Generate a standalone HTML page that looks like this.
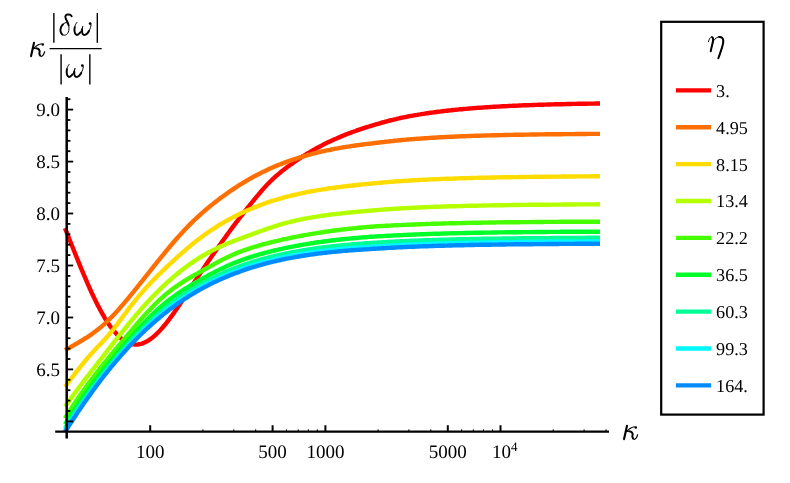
<!DOCTYPE html>
<html><head><meta charset="utf-8"><title>plot</title>
<style>
html,body{margin:0;padding:0;background:#fff;}
body{width:790px;height:483px;overflow:hidden;position:relative;font-family:"Liberation Serif",serif;}
svg{position:absolute;left:0;top:0;}
text{font-family:"Liberation Serif",serif;fill:#000;text-rendering:geometricPrecision;filter:url(#idf);}
.t{font-size:19px;}
.lg{font-size:18.15px;}
.it{font-style:italic;}
</style></head><body>
<svg width="790" height="483" viewBox="0 0 790 483">
<defs><filter id="idf" x="-5%" y="-5%" width="110%" height="110%" color-interpolation-filters="sRGB"><feOffset dx="0" dy="0"/></filter></defs>
<rect width="790" height="483" fill="#fff"/>

<g fill="none" stroke-width="4.4" stroke-linejoin="round" stroke-linecap="butt">
<path d="M65.0,228.1 L66.0,230.6 L67.5,234.4 L69.0,238.2 L70.5,242.0 L72.0,245.8 L73.5,249.5 L75.0,253.3 L76.5,257.0 L78.0,260.7 L79.5,264.4 L81.0,268.1 L82.5,271.7 L84.0,275.2 L85.5,278.7 L87.0,282.2 L88.5,285.6 L90.0,289.0 L91.5,292.3 L93.0,295.5 L94.5,298.6 L96.0,301.7 L97.5,304.7 L99.0,307.6 L100.5,310.4 L102.0,313.1 L103.5,315.7 L105.0,318.3 L106.5,320.7 L108.0,323.0 L109.5,325.2 L111.0,327.3 L112.5,329.2 L114.0,331.1 L115.5,332.8 L117.0,334.5 L118.5,336.0 L120.0,337.4 L121.5,338.6 L123.0,339.8 L124.5,340.8 L126.0,341.7 L127.5,342.5 L129.0,343.1 L130.5,343.7 L132.0,344.1 L133.5,344.4 L135.0,344.5 L136.5,344.6 L138.0,344.5 L139.5,344.2 L141.0,343.9 L142.5,343.4 L144.0,342.8 L145.5,342.1 L147.0,341.3 L148.5,340.4 L150.0,339.4 L151.5,338.3 L153.0,337.1 L154.5,335.8 L156.0,334.5 L157.5,333.0 L159.0,331.5 L160.5,329.9 L162.0,328.2 L163.5,326.5 L165.0,324.7 L166.5,322.8 L168.0,320.9 L169.5,318.9 L171.0,316.9 L172.5,314.9 L174.0,312.8 L175.5,310.6 L177.0,308.5 L178.5,306.3 L180.0,304.1 L181.5,301.8 L183.0,299.5 L184.5,297.3 L186.0,295.0 L187.5,292.7 L189.0,290.4 L190.5,288.1 L192.0,285.7 L193.5,283.4 L195.0,281.1 L196.5,278.9 L198.0,276.6 L199.5,274.3 L201.0,272.1 L202.5,269.9 L204.0,267.7 L205.5,265.5 L207.0,263.3 L208.5,261.1 L210.0,258.9 L211.5,256.8 L213.0,254.6 L214.5,252.5 L216.0,250.3 L217.5,248.2 L219.0,246.1 L220.5,244.0 L222.0,241.9 L223.5,239.8 L225.0,237.7 L226.5,235.6 L228.0,233.5 L229.5,231.5 L231.0,229.4 L232.5,227.4 L234.0,225.4 L235.5,223.4 L237.0,221.4 L238.5,219.5 L240.0,217.5 L241.5,215.6 L243.0,213.6 L244.5,211.7 L246.0,209.8 L247.5,207.9 L249.0,206.1 L250.5,204.2 L252.0,202.4 L253.5,200.5 L255.0,198.7 L256.5,196.9 L258.0,195.1 L259.5,193.3 L261.0,191.5 L262.5,189.8 L264.0,188.1 L265.5,186.4 L267.0,184.8 L268.5,183.3 L270.0,181.8 L271.5,180.3 L273.0,178.9 L274.5,177.5 L276.0,176.2 L277.5,174.9 L279.0,173.6 L280.5,172.3 L282.0,171.1 L283.5,169.9 L285.0,168.8 L286.5,167.6 L288.0,166.5 L289.5,165.4 L291.0,164.3 L292.5,163.3 L294.0,162.2 L295.5,161.2 L297.0,160.2 L298.5,159.1 L300.0,158.2 L301.5,157.2 L303.0,156.2 L304.5,155.3 L306.0,154.4 L307.5,153.4 L309.0,152.6 L310.5,151.7 L312.0,150.8 L313.5,149.9 L315.0,149.1 L316.5,148.3 L318.0,147.5 L319.5,146.7 L321.0,145.9 L322.5,145.1 L324.0,144.3 L325.5,143.6 L327.0,142.8 L328.5,142.1 L330.0,141.4 L331.5,140.7 L333.0,140.0 L334.5,139.3 L336.0,138.7 L337.5,138.0 L339.0,137.4 L340.5,136.7 L342.0,136.1 L343.5,135.5 L345.0,134.9 L346.5,134.3 L348.0,133.7 L349.5,133.2 L351.0,132.6 L352.5,132.0 L354.0,131.5 L355.5,131.0 L357.0,130.4 L358.5,129.9 L360.0,129.4 L361.5,128.9 L363.0,128.4 L364.5,127.9 L366.0,127.4 L367.5,127.0 L369.0,126.5 L370.5,126.0 L372.0,125.6 L373.5,125.1 L375.0,124.7 L376.5,124.2 L378.0,123.8 L379.5,123.4 L381.0,122.9 L382.5,122.5 L384.0,122.1 L385.5,121.7 L387.0,121.3 L388.5,120.9 L390.0,120.5 L391.5,120.1 L393.0,119.8 L394.5,119.4 L396.0,119.1 L397.5,118.7 L399.0,118.4 L400.5,118.0 L402.0,117.7 L403.5,117.4 L405.0,117.1 L406.5,116.8 L408.0,116.5 L409.5,116.2 L411.0,115.9 L412.5,115.7 L414.0,115.4 L415.5,115.1 L417.0,114.9 L418.5,114.6 L420.0,114.4 L421.5,114.1 L423.0,113.9 L424.5,113.7 L426.0,113.4 L427.5,113.2 L429.0,113.0 L430.5,112.8 L432.0,112.6 L433.5,112.4 L435.0,112.2 L436.5,112.0 L438.0,111.8 L439.5,111.6 L441.0,111.4 L442.5,111.2 L444.0,111.0 L445.5,110.9 L447.0,110.7 L448.5,110.5 L450.0,110.4 L451.5,110.2 L453.0,110.0 L454.5,109.9 L456.0,109.7 L457.5,109.6 L459.0,109.4 L460.5,109.3 L462.0,109.2 L463.5,109.0 L465.0,108.9 L466.5,108.8 L468.0,108.6 L469.5,108.5 L471.0,108.4 L472.5,108.3 L474.0,108.1 L475.5,108.0 L477.0,107.9 L478.5,107.8 L480.0,107.7 L481.5,107.6 L483.0,107.5 L484.5,107.4 L486.0,107.3 L487.5,107.2 L489.0,107.1 L490.5,107.0 L492.0,106.9 L493.5,106.8 L495.0,106.7 L496.5,106.6 L498.0,106.6 L499.5,106.5 L501.0,106.4 L502.5,106.3 L504.0,106.2 L505.5,106.2 L507.0,106.1 L508.5,106.0 L510.0,105.9 L511.5,105.9 L513.0,105.8 L514.5,105.7 L516.0,105.7 L517.5,105.6 L519.0,105.5 L520.5,105.5 L522.0,105.4 L523.5,105.3 L525.0,105.3 L526.5,105.2 L528.0,105.2 L529.5,105.1 L531.0,105.1 L532.5,105.0 L534.0,105.0 L535.5,104.9 L537.0,104.9 L538.5,104.8 L540.0,104.8 L541.5,104.7 L543.0,104.7 L544.5,104.6 L546.0,104.6 L547.5,104.5 L549.0,104.5 L550.5,104.5 L552.0,104.4 L553.5,104.4 L555.0,104.3 L556.5,104.3 L558.0,104.3 L559.5,104.2 L561.0,104.2 L562.5,104.2 L564.0,104.1 L565.5,104.1 L567.0,104.0 L568.5,104.0 L570.0,104.0 L571.5,104.0 L573.0,103.9 L574.5,103.9 L576.0,103.9 L577.5,103.8 L579.0,103.8 L580.5,103.8 L582.0,103.8 L583.5,103.7 L585.0,103.7 L586.5,103.7 L588.0,103.6 L589.5,103.6 L591.0,103.6 L592.5,103.6 L594.0,103.6 L595.5,103.5 L597.0,103.5 L598.5,103.5 L600.0,103.5" stroke="#ff0000"/>
<path d="M65.0,350.2 L66.0,349.6 L67.5,348.8 L69.0,347.9 L70.5,347.1 L72.0,346.2 L73.5,345.4 L75.0,344.5 L76.5,343.6 L78.0,342.8 L79.5,341.9 L81.0,341.0 L82.5,340.1 L84.0,339.2 L85.5,338.2 L87.0,337.3 L88.5,336.3 L90.0,335.3 L91.5,334.3 L93.0,333.2 L94.5,332.1 L96.0,331.0 L97.5,329.8 L99.0,328.6 L100.5,327.4 L102.0,326.1 L103.5,324.8 L105.0,323.5 L106.5,322.1 L108.0,320.6 L109.5,319.2 L111.0,317.6 L112.5,316.1 L114.0,314.5 L115.5,312.9 L117.0,311.3 L118.5,309.6 L120.0,307.9 L121.5,306.2 L123.0,304.4 L124.5,302.7 L126.0,300.9 L127.5,299.1 L129.0,297.3 L130.5,295.5 L132.0,293.6 L133.5,291.8 L135.0,289.9 L136.5,288.1 L138.0,286.2 L139.5,284.3 L141.0,282.4 L142.5,280.6 L144.0,278.7 L145.5,276.8 L147.0,274.9 L148.5,273.0 L150.0,271.1 L151.5,269.2 L153.0,267.3 L154.5,265.4 L156.0,263.6 L157.5,261.7 L159.0,259.8 L160.5,258.0 L162.0,256.1 L163.5,254.3 L165.0,252.5 L166.5,250.6 L168.0,248.8 L169.5,247.0 L171.0,245.3 L172.5,243.5 L174.0,241.7 L175.5,240.0 L177.0,238.3 L178.5,236.6 L180.0,234.9 L181.5,233.3 L183.0,231.7 L184.5,230.1 L186.0,228.5 L187.5,226.9 L189.0,225.4 L190.5,223.9 L192.0,222.4 L193.5,220.9 L195.0,219.5 L196.5,218.1 L198.0,216.7 L199.5,215.3 L201.0,214.0 L202.5,212.6 L204.0,211.3 L205.5,210.0 L207.0,208.8 L208.5,207.5 L210.0,206.3 L211.5,205.1 L213.0,203.9 L214.5,202.7 L216.0,201.5 L217.5,200.4 L219.0,199.2 L220.5,198.1 L222.0,197.0 L223.5,195.9 L225.0,194.8 L226.5,193.8 L228.0,192.7 L229.5,191.7 L231.0,190.6 L232.5,189.6 L234.0,188.6 L235.5,187.6 L237.0,186.7 L238.5,185.7 L240.0,184.7 L241.5,183.8 L243.0,182.9 L244.5,182.0 L246.0,181.1 L247.5,180.2 L249.0,179.3 L250.5,178.5 L252.0,177.6 L253.5,176.8 L255.0,176.0 L256.5,175.2 L258.0,174.4 L259.5,173.7 L261.0,172.9 L262.5,172.1 L264.0,171.4 L265.5,170.7 L267.0,170.0 L268.5,169.3 L270.0,168.6 L271.5,167.9 L273.0,167.3 L274.5,166.6 L276.0,166.0 L277.5,165.4 L279.0,164.8 L280.5,164.2 L282.0,163.6 L283.5,163.0 L285.0,162.4 L286.5,161.9 L288.0,161.3 L289.5,160.8 L291.0,160.3 L292.5,159.8 L294.0,159.3 L295.5,158.8 L297.0,158.3 L298.5,157.8 L300.0,157.3 L301.5,156.9 L303.0,156.4 L304.5,156.0 L306.0,155.6 L307.5,155.1 L309.0,154.7 L310.5,154.3 L312.0,153.9 L313.5,153.5 L315.0,153.2 L316.5,152.8 L318.0,152.4 L319.5,152.1 L321.0,151.7 L322.5,151.4 L324.0,151.1 L325.5,150.7 L327.0,150.4 L328.5,150.1 L330.0,149.8 L331.5,149.5 L333.0,149.2 L334.5,148.9 L336.0,148.6 L337.5,148.4 L339.0,148.1 L340.5,147.8 L342.0,147.6 L343.5,147.3 L345.0,147.1 L346.5,146.8 L348.0,146.6 L349.5,146.4 L351.0,146.1 L352.5,145.9 L354.0,145.7 L355.5,145.5 L357.0,145.3 L358.5,145.1 L360.0,144.9 L361.5,144.7 L363.0,144.5 L364.5,144.3 L366.0,144.1 L367.5,143.9 L369.0,143.7 L370.5,143.6 L372.0,143.4 L373.5,143.2 L375.0,143.0 L376.5,142.8 L378.0,142.7 L379.5,142.5 L381.0,142.3 L382.5,142.1 L384.0,142.0 L385.5,141.8 L387.0,141.6 L388.5,141.5 L390.0,141.3 L391.5,141.1 L393.0,141.0 L394.5,140.8 L396.0,140.6 L397.5,140.5 L399.0,140.3 L400.5,140.2 L402.0,140.0 L403.5,139.9 L405.0,139.8 L406.5,139.6 L408.0,139.5 L409.5,139.4 L411.0,139.2 L412.5,139.1 L414.0,139.0 L415.5,138.9 L417.0,138.8 L418.5,138.7 L420.0,138.6 L421.5,138.5 L423.0,138.4 L424.5,138.3 L426.0,138.2 L427.5,138.1 L429.0,138.0 L430.5,137.9 L432.0,137.8 L433.5,137.7 L435.0,137.6 L436.5,137.5 L438.0,137.4 L439.5,137.3 L441.0,137.3 L442.5,137.2 L444.0,137.1 L445.5,137.0 L447.0,137.0 L448.5,136.9 L450.0,136.8 L451.5,136.7 L453.0,136.7 L454.5,136.6 L456.0,136.5 L457.5,136.5 L459.0,136.4 L460.5,136.4 L462.0,136.3 L463.5,136.2 L465.0,136.2 L466.5,136.1 L468.0,136.1 L469.5,136.0 L471.0,136.0 L472.5,135.9 L474.0,135.9 L475.5,135.8 L477.0,135.8 L478.5,135.7 L480.0,135.7 L481.5,135.6 L483.0,135.6 L484.5,135.5 L486.0,135.5 L487.5,135.4 L489.0,135.4 L490.5,135.4 L492.0,135.3 L493.5,135.3 L495.0,135.3 L496.5,135.2 L498.0,135.2 L499.5,135.1 L501.0,135.1 L502.5,135.1 L504.0,135.0 L505.5,135.0 L507.0,135.0 L508.5,134.9 L510.0,134.9 L511.5,134.9 L513.0,134.9 L514.5,134.8 L516.0,134.8 L517.5,134.8 L519.0,134.7 L520.5,134.7 L522.0,134.7 L523.5,134.7 L525.0,134.6 L526.5,134.6 L528.0,134.6 L529.5,134.6 L531.0,134.5 L532.5,134.5 L534.0,134.5 L535.5,134.5 L537.0,134.5 L538.5,134.4 L540.0,134.4 L541.5,134.4 L543.0,134.4 L544.5,134.4 L546.0,134.3 L547.5,134.3 L549.0,134.3 L550.5,134.3 L552.0,134.3 L553.5,134.3 L555.0,134.2 L556.5,134.2 L558.0,134.2 L559.5,134.2 L561.0,134.2 L562.5,134.2 L564.0,134.1 L565.5,134.1 L567.0,134.1 L568.5,134.1 L570.0,134.1 L571.5,134.1 L573.0,134.1 L574.5,134.1 L576.0,134.0 L577.5,134.0 L579.0,134.0 L580.5,134.0 L582.0,134.0 L583.5,134.0 L585.0,134.0 L586.5,134.0 L588.0,133.9 L589.5,133.9 L591.0,133.9 L592.5,133.9 L594.0,133.9 L595.5,133.9 L597.0,133.9 L598.5,133.9 L600.0,133.9" stroke="#ff6e00"/>
<path d="M65.0,386.9 L66.0,385.5 L67.5,383.5 L69.0,381.5 L70.5,379.5 L72.0,377.5 L73.5,375.6 L75.0,373.6 L76.5,371.7 L78.0,369.8 L79.5,367.9 L81.0,366.0 L82.5,364.1 L84.0,362.3 L85.5,360.5 L87.0,358.7 L88.5,357.0 L90.0,355.2 L91.5,353.6 L93.0,351.9 L94.5,350.3 L96.0,348.7 L97.5,347.1 L99.0,345.6 L100.5,344.0 L102.0,342.4 L103.5,340.8 L105.0,339.2 L106.5,337.5 L108.0,335.8 L109.5,334.1 L111.0,332.2 L112.5,330.4 L114.0,328.5 L115.5,326.5 L117.0,324.6 L118.5,322.6 L120.0,320.6 L121.5,318.5 L123.0,316.5 L124.5,314.5 L126.0,312.5 L127.5,310.4 L129.0,308.4 L130.5,306.5 L132.0,304.5 L133.5,302.6 L135.0,300.8 L136.5,298.9 L138.0,297.1 L139.5,295.3 L141.0,293.6 L142.5,291.8 L144.0,290.2 L145.5,288.5 L147.0,286.8 L148.5,285.2 L150.0,283.6 L151.5,282.0 L153.0,280.5 L154.5,278.9 L156.0,277.4 L157.5,275.9 L159.0,274.4 L160.5,273.0 L162.0,271.5 L163.5,270.1 L165.0,268.6 L166.5,267.2 L168.0,265.8 L169.5,264.4 L171.0,263.0 L172.5,261.6 L174.0,260.2 L175.5,258.8 L177.0,257.4 L178.5,256.1 L180.0,254.7 L181.5,253.4 L183.0,252.1 L184.5,250.8 L186.0,249.5 L187.5,248.2 L189.0,246.9 L190.5,245.7 L192.0,244.4 L193.5,243.2 L195.0,242.0 L196.5,240.8 L198.0,239.7 L199.5,238.5 L201.0,237.4 L202.5,236.3 L204.0,235.2 L205.5,234.1 L207.0,233.1 L208.5,232.0 L210.0,231.0 L211.5,230.0 L213.0,229.0 L214.5,228.1 L216.0,227.1 L217.5,226.2 L219.0,225.2 L220.5,224.3 L222.0,223.4 L223.5,222.6 L225.0,221.7 L226.5,220.8 L228.0,220.0 L229.5,219.2 L231.0,218.4 L232.5,217.6 L234.0,216.8 L235.5,216.0 L237.0,215.3 L238.5,214.5 L240.0,213.8 L241.5,213.1 L243.0,212.4 L244.5,211.7 L246.0,211.0 L247.5,210.3 L249.0,209.7 L250.5,209.1 L252.0,208.4 L253.5,207.8 L255.0,207.2 L256.5,206.6 L258.0,206.0 L259.5,205.4 L261.0,204.9 L262.5,204.3 L264.0,203.8 L265.5,203.2 L267.0,202.7 L268.5,202.2 L270.0,201.7 L271.5,201.2 L273.0,200.7 L274.5,200.3 L276.0,199.8 L277.5,199.4 L279.0,198.9 L280.5,198.5 L282.0,198.1 L283.5,197.6 L285.0,197.2 L286.5,196.8 L288.0,196.4 L289.5,196.1 L291.0,195.7 L292.5,195.3 L294.0,195.0 L295.5,194.6 L297.0,194.3 L298.5,193.9 L300.0,193.6 L301.5,193.3 L303.0,193.0 L304.5,192.6 L306.0,192.3 L307.5,192.0 L309.0,191.8 L310.5,191.5 L312.0,191.2 L313.5,190.9 L315.0,190.7 L316.5,190.4 L318.0,190.1 L319.5,189.9 L321.0,189.7 L322.5,189.4 L324.0,189.2 L325.5,189.0 L327.0,188.7 L328.5,188.5 L330.0,188.3 L331.5,188.1 L333.0,187.9 L334.5,187.7 L336.0,187.5 L337.5,187.3 L339.0,187.1 L340.5,186.9 L342.0,186.7 L343.5,186.5 L345.0,186.4 L346.5,186.2 L348.0,186.0 L349.5,185.8 L351.0,185.7 L352.5,185.5 L354.0,185.3 L355.5,185.2 L357.0,185.0 L358.5,184.8 L360.0,184.7 L361.5,184.5 L363.0,184.4 L364.5,184.2 L366.0,184.1 L367.5,183.9 L369.0,183.8 L370.5,183.6 L372.0,183.5 L373.5,183.4 L375.0,183.2 L376.5,183.1 L378.0,182.9 L379.5,182.8 L381.0,182.7 L382.5,182.5 L384.0,182.4 L385.5,182.3 L387.0,182.1 L388.5,182.0 L390.0,181.9 L391.5,181.8 L393.0,181.7 L394.5,181.5 L396.0,181.4 L397.5,181.3 L399.0,181.2 L400.5,181.1 L402.0,181.0 L403.5,180.9 L405.0,180.8 L406.5,180.7 L408.0,180.6 L409.5,180.5 L411.0,180.5 L412.5,180.4 L414.0,180.3 L415.5,180.2 L417.0,180.1 L418.5,180.0 L420.0,180.0 L421.5,179.9 L423.0,179.8 L424.5,179.7 L426.0,179.7 L427.5,179.6 L429.0,179.5 L430.5,179.4 L432.0,179.4 L433.5,179.3 L435.0,179.3 L436.5,179.2 L438.0,179.1 L439.5,179.1 L441.0,179.0 L442.5,178.9 L444.0,178.9 L445.5,178.8 L447.0,178.8 L448.5,178.7 L450.0,178.7 L451.5,178.6 L453.0,178.6 L454.5,178.5 L456.0,178.5 L457.5,178.4 L459.0,178.4 L460.5,178.3 L462.0,178.3 L463.5,178.2 L465.0,178.2 L466.5,178.1 L468.0,178.1 L469.5,178.1 L471.0,178.0 L472.5,178.0 L474.0,177.9 L475.5,177.9 L477.0,177.9 L478.5,177.8 L480.0,177.8 L481.5,177.7 L483.0,177.7 L484.5,177.7 L486.0,177.6 L487.5,177.6 L489.0,177.6 L490.5,177.5 L492.0,177.5 L493.5,177.5 L495.0,177.5 L496.5,177.4 L498.0,177.4 L499.5,177.4 L501.0,177.3 L502.5,177.3 L504.0,177.3 L505.5,177.3 L507.0,177.2 L508.5,177.2 L510.0,177.2 L511.5,177.2 L513.0,177.1 L514.5,177.1 L516.0,177.1 L517.5,177.1 L519.0,177.0 L520.5,177.0 L522.0,177.0 L523.5,177.0 L525.0,177.0 L526.5,176.9 L528.0,176.9 L529.5,176.9 L531.0,176.9 L532.5,176.9 L534.0,176.8 L535.5,176.8 L537.0,176.8 L538.5,176.8 L540.0,176.8 L541.5,176.7 L543.0,176.7 L544.5,176.7 L546.0,176.7 L547.5,176.7 L549.0,176.7 L550.5,176.7 L552.0,176.6 L553.5,176.6 L555.0,176.6 L556.5,176.6 L558.0,176.6 L559.5,176.6 L561.0,176.6 L562.5,176.5 L564.0,176.5 L565.5,176.5 L567.0,176.5 L568.5,176.5 L570.0,176.5 L571.5,176.5 L573.0,176.5 L574.5,176.5 L576.0,176.4 L577.5,176.4 L579.0,176.4 L580.5,176.4 L582.0,176.4 L583.5,176.4 L585.0,176.4 L586.5,176.4 L588.0,176.4 L589.5,176.4 L591.0,176.3 L592.5,176.3 L594.0,176.3 L595.5,176.3 L597.0,176.3 L598.5,176.3 L600.0,176.3" stroke="#ffdc00"/>
<path d="M65.0,406.6 L66.0,405.2 L67.5,403.1 L69.0,401.1 L70.5,399.0 L72.0,396.9 L73.5,394.9 L75.0,392.9 L76.5,390.8 L78.0,388.8 L79.5,386.8 L81.0,384.8 L82.5,382.9 L84.0,380.9 L85.5,378.9 L87.0,376.9 L88.5,375.0 L90.0,373.0 L91.5,371.1 L93.0,369.2 L94.5,367.2 L96.0,365.3 L97.5,363.4 L99.0,361.4 L100.5,359.5 L102.0,357.6 L103.5,355.7 L105.0,353.7 L106.5,351.8 L108.0,349.9 L109.5,348.0 L111.0,346.1 L112.5,344.1 L114.0,342.2 L115.5,340.3 L117.0,338.4 L118.5,336.5 L120.0,334.6 L121.5,332.8 L123.0,330.9 L124.5,329.0 L126.0,327.2 L127.5,325.3 L129.0,323.5 L130.5,321.7 L132.0,319.9 L133.5,318.1 L135.0,316.3 L136.5,314.5 L138.0,312.8 L139.5,311.1 L141.0,309.3 L142.5,307.6 L144.0,306.0 L145.5,304.3 L147.0,302.7 L148.5,301.0 L150.0,299.4 L151.5,297.9 L153.0,296.3 L154.5,294.8 L156.0,293.2 L157.5,291.7 L159.0,290.2 L160.5,288.8 L162.0,287.3 L163.5,285.9 L165.0,284.5 L166.5,283.1 L168.0,281.7 L169.5,280.4 L171.0,279.1 L172.5,277.8 L174.0,276.5 L175.5,275.2 L177.0,274.0 L178.5,272.7 L180.0,271.5 L181.5,270.3 L183.0,269.2 L184.5,268.0 L186.0,266.9 L187.5,265.8 L189.0,264.7 L190.5,263.6 L192.0,262.6 L193.5,261.6 L195.0,260.6 L196.5,259.6 L198.0,258.6 L199.5,257.7 L201.0,256.8 L202.5,255.9 L204.0,255.0 L205.5,254.1 L207.0,253.3 L208.5,252.5 L210.0,251.7 L211.5,250.9 L213.0,250.1 L214.5,249.4 L216.0,248.6 L217.5,247.9 L219.0,247.2 L220.5,246.5 L222.0,245.9 L223.5,245.2 L225.0,244.6 L226.5,243.9 L228.0,243.3 L229.5,242.7 L231.0,242.1 L232.5,241.5 L234.0,240.9 L235.5,240.3 L237.0,239.8 L238.5,239.2 L240.0,238.6 L241.5,238.1 L243.0,237.5 L244.5,237.0 L246.0,236.4 L247.5,235.9 L249.0,235.3 L250.5,234.8 L252.0,234.3 L253.5,233.7 L255.0,233.2 L256.5,232.6 L258.0,232.1 L259.5,231.5 L261.0,231.0 L262.5,230.5 L264.0,229.9 L265.5,229.4 L267.0,228.9 L268.5,228.3 L270.0,227.8 L271.5,227.3 L273.0,226.8 L274.5,226.3 L276.0,225.9 L277.5,225.4 L279.0,224.9 L280.5,224.5 L282.0,224.1 L283.5,223.6 L285.0,223.2 L286.5,222.8 L288.0,222.4 L289.5,222.1 L291.0,221.7 L292.5,221.3 L294.0,221.0 L295.5,220.6 L297.0,220.3 L298.5,220.0 L300.0,219.6 L301.5,219.3 L303.0,219.0 L304.5,218.7 L306.0,218.4 L307.5,218.2 L309.0,217.9 L310.5,217.6 L312.0,217.4 L313.5,217.1 L315.0,216.9 L316.5,216.6 L318.0,216.4 L319.5,216.1 L321.0,215.9 L322.5,215.7 L324.0,215.5 L325.5,215.3 L327.0,215.1 L328.5,214.9 L330.0,214.7 L331.5,214.5 L333.0,214.3 L334.5,214.1 L336.0,214.0 L337.5,213.8 L339.0,213.6 L340.5,213.5 L342.0,213.3 L343.5,213.1 L345.0,213.0 L346.5,212.8 L348.0,212.7 L349.5,212.5 L351.0,212.4 L352.5,212.2 L354.0,212.1 L355.5,211.9 L357.0,211.8 L358.5,211.7 L360.0,211.5 L361.5,211.4 L363.0,211.3 L364.5,211.1 L366.0,211.0 L367.5,210.9 L369.0,210.7 L370.5,210.6 L372.0,210.5 L373.5,210.4 L375.0,210.2 L376.5,210.1 L378.0,210.0 L379.5,209.9 L381.0,209.8 L382.5,209.6 L384.0,209.5 L385.5,209.4 L387.0,209.3 L388.5,209.2 L390.0,209.1 L391.5,209.0 L393.0,208.9 L394.5,208.8 L396.0,208.7 L397.5,208.6 L399.0,208.5 L400.5,208.4 L402.0,208.4 L403.5,208.3 L405.0,208.2 L406.5,208.1 L408.0,208.0 L409.5,208.0 L411.0,207.9 L412.5,207.8 L414.0,207.7 L415.5,207.7 L417.0,207.6 L418.5,207.5 L420.0,207.5 L421.5,207.4 L423.0,207.3 L424.5,207.3 L426.0,207.2 L427.5,207.1 L429.0,207.1 L430.5,207.0 L432.0,207.0 L433.5,206.9 L435.0,206.8 L436.5,206.8 L438.0,206.7 L439.5,206.7 L441.0,206.6 L442.5,206.6 L444.0,206.5 L445.5,206.5 L447.0,206.4 L448.5,206.4 L450.0,206.3 L451.5,206.3 L453.0,206.3 L454.5,206.2 L456.0,206.2 L457.5,206.1 L459.0,206.1 L460.5,206.1 L462.0,206.0 L463.5,206.0 L465.0,205.9 L466.5,205.9 L468.0,205.9 L469.5,205.8 L471.0,205.8 L472.5,205.8 L474.0,205.7 L475.5,205.7 L477.0,205.7 L478.5,205.6 L480.0,205.6 L481.5,205.6 L483.0,205.5 L484.5,205.5 L486.0,205.5 L487.5,205.4 L489.0,205.4 L490.5,205.4 L492.0,205.4 L493.5,205.3 L495.0,205.3 L496.5,205.3 L498.0,205.3 L499.5,205.2 L501.0,205.2 L502.5,205.2 L504.0,205.2 L505.5,205.1 L507.0,205.1 L508.5,205.1 L510.0,205.1 L511.5,205.1 L513.0,205.0 L514.5,205.0 L516.0,205.0 L517.5,205.0 L519.0,205.0 L520.5,204.9 L522.0,204.9 L523.5,204.9 L525.0,204.9 L526.5,204.9 L528.0,204.9 L529.5,204.8 L531.0,204.8 L532.5,204.8 L534.0,204.8 L535.5,204.8 L537.0,204.8 L538.5,204.7 L540.0,204.7 L541.5,204.7 L543.0,204.7 L544.5,204.7 L546.0,204.7 L547.5,204.7 L549.0,204.7 L550.5,204.6 L552.0,204.6 L553.5,204.6 L555.0,204.6 L556.5,204.6 L558.0,204.6 L559.5,204.6 L561.0,204.6 L562.5,204.5 L564.0,204.5 L565.5,204.5 L567.0,204.5 L568.5,204.5 L570.0,204.5 L571.5,204.5 L573.0,204.5 L574.5,204.5 L576.0,204.5 L577.5,204.4 L579.0,204.4 L580.5,204.4 L582.0,204.4 L583.5,204.4 L585.0,204.4 L586.5,204.4 L588.0,204.4 L589.5,204.4 L591.0,204.4 L592.5,204.4 L594.0,204.4 L595.5,204.4 L597.0,204.3 L598.5,204.3 L600.0,204.3" stroke="#b4ff00"/>
<path d="M65.0,418.3 L66.0,416.7 L67.5,414.3 L69.0,411.9 L70.5,409.6 L72.0,407.3 L73.5,405.0 L75.0,402.7 L76.5,400.5 L78.0,398.3 L79.5,396.1 L81.0,394.0 L82.5,391.9 L84.0,389.7 L85.5,387.7 L87.0,385.6 L88.5,383.6 L90.0,381.5 L91.5,379.5 L93.0,377.6 L94.5,375.6 L96.0,373.6 L97.5,371.7 L99.0,369.8 L100.5,367.9 L102.0,366.0 L103.5,364.1 L105.0,362.2 L106.5,360.4 L108.0,358.5 L109.5,356.7 L111.0,354.9 L112.5,353.1 L114.0,351.2 L115.5,349.4 L117.0,347.6 L118.5,345.8 L120.0,344.1 L121.5,342.3 L123.0,340.5 L124.5,338.7 L126.0,336.9 L127.5,335.2 L129.0,333.4 L130.5,331.6 L132.0,329.8 L133.5,328.0 L135.0,326.3 L136.5,324.5 L138.0,322.8 L139.5,321.0 L141.0,319.3 L142.5,317.6 L144.0,315.9 L145.5,314.2 L147.0,312.6 L148.5,311.0 L150.0,309.4 L151.5,307.8 L153.0,306.2 L154.5,304.7 L156.0,303.2 L157.5,301.8 L159.0,300.3 L160.5,298.9 L162.0,297.6 L163.5,296.3 L165.0,295.0 L166.5,293.8 L168.0,292.5 L169.5,291.4 L171.0,290.2 L172.5,289.1 L174.0,288.0 L175.5,286.9 L177.0,285.9 L178.5,284.8 L180.0,283.8 L181.5,282.9 L183.0,281.9 L184.5,280.9 L186.0,280.0 L187.5,279.1 L189.0,278.2 L190.5,277.3 L192.0,276.5 L193.5,275.6 L195.0,274.7 L196.5,273.9 L198.0,273.1 L199.5,272.2 L201.0,271.4 L202.5,270.6 L204.0,269.7 L205.5,268.9 L207.0,268.1 L208.5,267.3 L210.0,266.4 L211.5,265.6 L213.0,264.8 L214.5,263.9 L216.0,263.1 L217.5,262.2 L219.0,261.4 L220.5,260.6 L222.0,259.9 L223.5,259.1 L225.0,258.4 L226.5,257.6 L228.0,256.9 L229.5,256.2 L231.0,255.6 L232.5,254.9 L234.0,254.3 L235.5,253.6 L237.0,253.0 L238.5,252.4 L240.0,251.8 L241.5,251.3 L243.0,250.7 L244.5,250.2 L246.0,249.6 L247.5,249.1 L249.0,248.6 L250.5,248.1 L252.0,247.6 L253.5,247.2 L255.0,246.7 L256.5,246.3 L258.0,245.8 L259.5,245.4 L261.0,245.0 L262.5,244.5 L264.0,244.1 L265.5,243.7 L267.0,243.3 L268.5,243.0 L270.0,242.6 L271.5,242.2 L273.0,241.8 L274.5,241.5 L276.0,241.1 L277.5,240.8 L279.0,240.4 L280.5,240.1 L282.0,239.7 L283.5,239.4 L285.0,239.1 L286.5,238.8 L288.0,238.4 L289.5,238.1 L291.0,237.8 L292.5,237.5 L294.0,237.2 L295.5,236.9 L297.0,236.6 L298.5,236.3 L300.0,236.0 L301.5,235.8 L303.0,235.5 L304.5,235.2 L306.0,234.9 L307.5,234.7 L309.0,234.4 L310.5,234.1 L312.0,233.9 L313.5,233.6 L315.0,233.4 L316.5,233.2 L318.0,232.9 L319.5,232.7 L321.0,232.5 L322.5,232.2 L324.0,232.0 L325.5,231.8 L327.0,231.6 L328.5,231.4 L330.0,231.1 L331.5,230.9 L333.0,230.7 L334.5,230.5 L336.0,230.3 L337.5,230.2 L339.0,230.0 L340.5,229.8 L342.0,229.6 L343.5,229.4 L345.0,229.2 L346.5,229.1 L348.0,228.9 L349.5,228.7 L351.0,228.6 L352.5,228.4 L354.0,228.3 L355.5,228.1 L357.0,228.0 L358.5,227.8 L360.0,227.7 L361.5,227.5 L363.0,227.4 L364.5,227.3 L366.0,227.1 L367.5,227.0 L369.0,226.9 L370.5,226.8 L372.0,226.7 L373.5,226.5 L375.0,226.4 L376.5,226.3 L378.0,226.2 L379.5,226.1 L381.0,226.0 L382.5,226.0 L384.0,225.9 L385.5,225.8 L387.0,225.7 L388.5,225.6 L390.0,225.6 L391.5,225.5 L393.0,225.4 L394.5,225.3 L396.0,225.3 L397.5,225.2 L399.0,225.1 L400.5,225.1 L402.0,225.0 L403.5,224.9 L405.0,224.9 L406.5,224.8 L408.0,224.8 L409.5,224.7 L411.0,224.6 L412.5,224.6 L414.0,224.5 L415.5,224.4 L417.0,224.4 L418.5,224.3 L420.0,224.3 L421.5,224.2 L423.0,224.1 L424.5,224.1 L426.0,224.0 L427.5,224.0 L429.0,223.9 L430.5,223.9 L432.0,223.8 L433.5,223.8 L435.0,223.7 L436.5,223.7 L438.0,223.6 L439.5,223.6 L441.0,223.6 L442.5,223.5 L444.0,223.5 L445.5,223.4 L447.0,223.4 L448.5,223.4 L450.0,223.3 L451.5,223.3 L453.0,223.2 L454.5,223.2 L456.0,223.2 L457.5,223.1 L459.0,223.1 L460.5,223.1 L462.0,223.0 L463.5,223.0 L465.0,223.0 L466.5,222.9 L468.0,222.9 L469.5,222.9 L471.0,222.8 L472.5,222.8 L474.0,222.8 L475.5,222.8 L477.0,222.7 L478.5,222.7 L480.0,222.7 L481.5,222.7 L483.0,222.6 L484.5,222.6 L486.0,222.6 L487.5,222.6 L489.0,222.5 L490.5,222.5 L492.0,222.5 L493.5,222.5 L495.0,222.5 L496.5,222.4 L498.0,222.4 L499.5,222.4 L501.0,222.4 L502.5,222.4 L504.0,222.3 L505.5,222.3 L507.0,222.3 L508.5,222.3 L510.0,222.3 L511.5,222.2 L513.0,222.2 L514.5,222.2 L516.0,222.2 L517.5,222.2 L519.0,222.2 L520.5,222.1 L522.0,222.1 L523.5,222.1 L525.0,222.1 L526.5,222.1 L528.0,222.1 L529.5,222.1 L531.0,222.1 L532.5,222.0 L534.0,222.0 L535.5,222.0 L537.0,222.0 L538.5,222.0 L540.0,222.0 L541.5,222.0 L543.0,222.0 L544.5,221.9 L546.0,221.9 L547.5,221.9 L549.0,221.9 L550.5,221.9 L552.0,221.9 L553.5,221.9 L555.0,221.9 L556.5,221.9 L558.0,221.9 L559.5,221.8 L561.0,221.8 L562.5,221.8 L564.0,221.8 L565.5,221.8 L567.0,221.8 L568.5,221.8 L570.0,221.8 L571.5,221.8 L573.0,221.8 L574.5,221.8 L576.0,221.8 L577.5,221.8 L579.0,221.7 L580.5,221.7 L582.0,221.7 L583.5,221.7 L585.0,221.7 L586.5,221.7 L588.0,221.7 L589.5,221.7 L591.0,221.7 L592.5,221.7 L594.0,221.7 L595.5,221.7 L597.0,221.7 L598.5,221.7 L600.0,221.7" stroke="#45ff00"/>
<path d="M65.0,424.5 L66.0,422.9 L67.5,420.5 L69.0,418.2 L70.5,415.8 L72.0,413.5 L73.5,411.2 L75.0,409.0 L76.5,406.7 L78.0,404.5 L79.5,402.3 L81.0,400.1 L82.5,398.0 L84.0,395.8 L85.5,393.7 L87.0,391.6 L88.5,389.5 L90.0,387.5 L91.5,385.4 L93.0,383.4 L94.5,381.4 L96.0,379.4 L97.5,377.5 L99.0,375.5 L100.5,373.6 L102.0,371.7 L103.5,369.8 L105.0,367.9 L106.5,366.0 L108.0,364.2 L109.5,362.3 L111.0,360.5 L112.5,358.7 L114.0,356.8 L115.5,355.1 L117.0,353.3 L118.5,351.5 L120.0,349.7 L121.5,348.0 L123.0,346.2 L124.5,344.5 L126.0,342.8 L127.5,341.1 L129.0,339.4 L130.5,337.7 L132.0,336.0 L133.5,334.3 L135.0,332.6 L136.5,331.0 L138.0,329.3 L139.5,327.7 L141.0,326.1 L142.5,324.5 L144.0,322.9 L145.5,321.4 L147.0,319.8 L148.5,318.3 L150.0,316.8 L151.5,315.3 L153.0,313.9 L154.5,312.5 L156.0,311.1 L157.5,309.7 L159.0,308.3 L160.5,307.0 L162.0,305.7 L163.5,304.4 L165.0,303.2 L166.5,302.0 L168.0,300.8 L169.5,299.6 L171.0,298.5 L172.5,297.4 L174.0,296.3 L175.5,295.2 L177.0,294.1 L178.5,293.1 L180.0,292.1 L181.5,291.1 L183.0,290.1 L184.5,289.1 L186.0,288.2 L187.5,287.3 L189.0,286.3 L190.5,285.4 L192.0,284.5 L193.5,283.7 L195.0,282.8 L196.5,281.9 L198.0,281.1 L199.5,280.2 L201.0,279.4 L202.5,278.6 L204.0,277.8 L205.5,277.0 L207.0,276.1 L208.5,275.3 L210.0,274.5 L211.5,273.7 L213.0,273.0 L214.5,272.2 L216.0,271.4 L217.5,270.6 L219.0,269.9 L220.5,269.1 L222.0,268.4 L223.5,267.7 L225.0,267.0 L226.5,266.3 L228.0,265.6 L229.5,265.0 L231.0,264.3 L232.5,263.7 L234.0,263.1 L235.5,262.5 L237.0,261.9 L238.5,261.3 L240.0,260.8 L241.5,260.2 L243.0,259.7 L244.5,259.1 L246.0,258.6 L247.5,258.1 L249.0,257.6 L250.5,257.1 L252.0,256.6 L253.5,256.2 L255.0,255.7 L256.5,255.3 L258.0,254.8 L259.5,254.4 L261.0,254.0 L262.5,253.6 L264.0,253.1 L265.5,252.7 L267.0,252.4 L268.5,252.0 L270.0,251.6 L271.5,251.2 L273.0,250.8 L274.5,250.5 L276.0,250.1 L277.5,249.8 L279.0,249.4 L280.5,249.1 L282.0,248.8 L283.5,248.4 L285.0,248.1 L286.5,247.8 L288.0,247.5 L289.5,247.2 L291.0,246.9 L292.5,246.6 L294.0,246.3 L295.5,246.0 L297.0,245.7 L298.5,245.5 L300.0,245.2 L301.5,244.9 L303.0,244.7 L304.5,244.4 L306.0,244.2 L307.5,243.9 L309.0,243.7 L310.5,243.4 L312.0,243.2 L313.5,243.0 L315.0,242.7 L316.5,242.5 L318.0,242.3 L319.5,242.1 L321.0,241.9 L322.5,241.7 L324.0,241.5 L325.5,241.3 L327.0,241.1 L328.5,240.9 L330.0,240.7 L331.5,240.5 L333.0,240.3 L334.5,240.2 L336.0,240.0 L337.5,239.8 L339.0,239.7 L340.5,239.5 L342.0,239.3 L343.5,239.2 L345.0,239.0 L346.5,238.9 L348.0,238.7 L349.5,238.6 L351.0,238.4 L352.5,238.3 L354.0,238.2 L355.5,238.0 L357.0,237.9 L358.5,237.8 L360.0,237.6 L361.5,237.5 L363.0,237.4 L364.5,237.3 L366.0,237.2 L367.5,237.1 L369.0,236.9 L370.5,236.8 L372.0,236.7 L373.5,236.6 L375.0,236.5 L376.5,236.4 L378.0,236.3 L379.5,236.3 L381.0,236.2 L382.5,236.1 L384.0,236.0 L385.5,235.9 L387.0,235.8 L388.5,235.7 L390.0,235.7 L391.5,235.6 L393.0,235.5 L394.5,235.4 L396.0,235.4 L397.5,235.3 L399.0,235.2 L400.5,235.1 L402.0,235.1 L403.5,235.0 L405.0,234.9 L406.5,234.9 L408.0,234.8 L409.5,234.7 L411.0,234.7 L412.5,234.6 L414.0,234.5 L415.5,234.5 L417.0,234.4 L418.5,234.4 L420.0,234.3 L421.5,234.3 L423.0,234.2 L424.5,234.1 L426.0,234.1 L427.5,234.0 L429.0,234.0 L430.5,233.9 L432.0,233.9 L433.5,233.8 L435.0,233.8 L436.5,233.7 L438.0,233.7 L439.5,233.7 L441.0,233.6 L442.5,233.6 L444.0,233.5 L445.5,233.5 L447.0,233.4 L448.5,233.4 L450.0,233.4 L451.5,233.3 L453.0,233.3 L454.5,233.3 L456.0,233.2 L457.5,233.2 L459.0,233.1 L460.5,233.1 L462.0,233.1 L463.5,233.0 L465.0,233.0 L466.5,233.0 L468.0,233.0 L469.5,232.9 L471.0,232.9 L472.5,232.9 L474.0,232.8 L475.5,232.8 L477.0,232.8 L478.5,232.8 L480.0,232.7 L481.5,232.7 L483.0,232.7 L484.5,232.6 L486.0,232.6 L487.5,232.6 L489.0,232.6 L490.5,232.6 L492.0,232.5 L493.5,232.5 L495.0,232.5 L496.5,232.5 L498.0,232.4 L499.5,232.4 L501.0,232.4 L502.5,232.4 L504.0,232.4 L505.5,232.3 L507.0,232.3 L508.5,232.3 L510.0,232.3 L511.5,232.3 L513.0,232.3 L514.5,232.2 L516.0,232.2 L517.5,232.2 L519.0,232.2 L520.5,232.2 L522.0,232.2 L523.5,232.1 L525.0,232.1 L526.5,232.1 L528.0,232.1 L529.5,232.1 L531.0,232.1 L532.5,232.1 L534.0,232.0 L535.5,232.0 L537.0,232.0 L538.5,232.0 L540.0,232.0 L541.5,232.0 L543.0,232.0 L544.5,232.0 L546.0,232.0 L547.5,231.9 L549.0,231.9 L550.5,231.9 L552.0,231.9 L553.5,231.9 L555.0,231.9 L556.5,231.9 L558.0,231.9 L559.5,231.9 L561.0,231.8 L562.5,231.8 L564.0,231.8 L565.5,231.8 L567.0,231.8 L568.5,231.8 L570.0,231.8 L571.5,231.8 L573.0,231.8 L574.5,231.8 L576.0,231.8 L577.5,231.8 L579.0,231.8 L580.5,231.7 L582.0,231.7 L583.5,231.7 L585.0,231.7 L586.5,231.7 L588.0,231.7 L589.5,231.7 L591.0,231.7 L592.5,231.7 L594.0,231.7 L595.5,231.7 L597.0,231.7 L598.5,231.7 L600.0,231.7" stroke="#00ff29"/>
<path d="M65.0,428.3 L66.0,426.7 L67.5,424.4 L69.0,422.0 L70.5,419.7 L72.0,417.3 L73.5,415.0 L75.0,412.8 L76.5,410.5 L78.0,408.3 L79.5,406.1 L81.0,403.9 L82.5,401.7 L84.0,399.5 L85.5,397.4 L87.0,395.3 L88.5,393.2 L90.0,391.1 L91.5,389.1 L93.0,387.0 L94.5,385.0 L96.0,383.0 L97.5,381.0 L99.0,379.0 L100.5,377.1 L102.0,375.2 L103.5,373.2 L105.0,371.3 L106.5,369.5 L108.0,367.6 L109.5,365.7 L111.0,363.9 L112.5,362.1 L114.0,360.3 L115.5,358.5 L117.0,356.7 L118.5,355.0 L120.0,353.2 L121.5,351.5 L123.0,349.8 L124.5,348.1 L126.0,346.4 L127.5,344.7 L129.0,343.0 L130.5,341.4 L132.0,339.8 L133.5,338.1 L135.0,336.5 L136.5,334.9 L138.0,333.4 L139.5,331.8 L141.0,330.3 L142.5,328.7 L144.0,327.2 L145.5,325.7 L147.0,324.3 L148.5,322.8 L150.0,321.4 L151.5,320.0 L153.0,318.6 L154.5,317.2 L156.0,315.9 L157.5,314.5 L159.0,313.2 L160.5,311.9 L162.0,310.7 L163.5,309.4 L165.0,308.2 L166.5,307.0 L168.0,305.8 L169.5,304.7 L171.0,303.6 L172.5,302.4 L174.0,301.3 L175.5,300.3 L177.0,299.2 L178.5,298.2 L180.0,297.1 L181.5,296.1 L183.0,295.1 L184.5,294.2 L186.0,293.2 L187.5,292.2 L189.0,291.3 L190.5,290.4 L192.0,289.5 L193.5,288.6 L195.0,287.7 L196.5,286.8 L198.0,286.0 L199.5,285.1 L201.0,284.3 L202.5,283.5 L204.0,282.7 L205.5,281.9 L207.0,281.1 L208.5,280.3 L210.0,279.5 L211.5,278.7 L213.0,278.0 L214.5,277.2 L216.0,276.5 L217.5,275.7 L219.0,275.0 L220.5,274.3 L222.0,273.6 L223.5,272.9 L225.0,272.3 L226.5,271.6 L228.0,271.0 L229.5,270.3 L231.0,269.7 L232.5,269.1 L234.0,268.5 L235.5,267.9 L237.0,267.3 L238.5,266.8 L240.0,266.2 L241.5,265.7 L243.0,265.1 L244.5,264.6 L246.0,264.1 L247.5,263.6 L249.0,263.1 L250.5,262.6 L252.0,262.2 L253.5,261.7 L255.0,261.2 L256.5,260.8 L258.0,260.3 L259.5,259.9 L261.0,259.5 L262.5,259.1 L264.0,258.7 L265.5,258.3 L267.0,257.9 L268.5,257.5 L270.0,257.1 L271.5,256.7 L273.0,256.4 L274.5,256.0 L276.0,255.7 L277.5,255.3 L279.0,255.0 L280.5,254.6 L282.0,254.3 L283.5,254.0 L285.0,253.7 L286.5,253.4 L288.0,253.1 L289.5,252.8 L291.0,252.5 L292.5,252.2 L294.0,251.9 L295.5,251.6 L297.0,251.3 L298.5,251.1 L300.0,250.8 L301.5,250.6 L303.0,250.3 L304.5,250.1 L306.0,249.8 L307.5,249.6 L309.0,249.3 L310.5,249.1 L312.0,248.9 L313.5,248.7 L315.0,248.5 L316.5,248.3 L318.0,248.0 L319.5,247.8 L321.0,247.7 L322.5,247.5 L324.0,247.3 L325.5,247.1 L327.0,246.9 L328.5,246.7 L330.0,246.6 L331.5,246.4 L333.0,246.2 L334.5,246.1 L336.0,245.9 L337.5,245.7 L339.0,245.6 L340.5,245.4 L342.0,245.3 L343.5,245.1 L345.0,245.0 L346.5,244.9 L348.0,244.7 L349.5,244.6 L351.0,244.5 L352.5,244.3 L354.0,244.2 L355.5,244.1 L357.0,244.0 L358.5,243.9 L360.0,243.7 L361.5,243.6 L363.0,243.5 L364.5,243.4 L366.0,243.3 L367.5,243.2 L369.0,243.1 L370.5,243.0 L372.0,242.9 L373.5,242.8 L375.0,242.7 L376.5,242.6 L378.0,242.5 L379.5,242.4 L381.0,242.4 L382.5,242.3 L384.0,242.2 L385.5,242.1 L387.0,242.0 L388.5,241.9 L390.0,241.8 L391.5,241.8 L393.0,241.7 L394.5,241.6 L396.0,241.5 L397.5,241.5 L399.0,241.4 L400.5,241.3 L402.0,241.2 L403.5,241.2 L405.0,241.1 L406.5,241.0 L408.0,241.0 L409.5,240.9 L411.0,240.8 L412.5,240.8 L414.0,240.7 L415.5,240.6 L417.0,240.6 L418.5,240.5 L420.0,240.5 L421.5,240.4 L423.0,240.4 L424.5,240.3 L426.0,240.3 L427.5,240.2 L429.0,240.1 L430.5,240.1 L432.0,240.0 L433.5,240.0 L435.0,240.0 L436.5,239.9 L438.0,239.9 L439.5,239.8 L441.0,239.8 L442.5,239.7 L444.0,239.7 L445.5,239.6 L447.0,239.6 L448.5,239.6 L450.0,239.5 L451.5,239.5 L453.0,239.4 L454.5,239.4 L456.0,239.4 L457.5,239.3 L459.0,239.3 L460.5,239.3 L462.0,239.2 L463.5,239.2 L465.0,239.2 L466.5,239.1 L468.0,239.1 L469.5,239.1 L471.0,239.0 L472.5,239.0 L474.0,239.0 L475.5,239.0 L477.0,238.9 L478.5,238.9 L480.0,238.9 L481.5,238.9 L483.0,238.8 L484.5,238.8 L486.0,238.8 L487.5,238.8 L489.0,238.7 L490.5,238.7 L492.0,238.7 L493.5,238.7 L495.0,238.6 L496.5,238.6 L498.0,238.6 L499.5,238.6 L501.0,238.6 L502.5,238.5 L504.0,238.5 L505.5,238.5 L507.0,238.5 L508.5,238.5 L510.0,238.4 L511.5,238.4 L513.0,238.4 L514.5,238.4 L516.0,238.4 L517.5,238.4 L519.0,238.3 L520.5,238.3 L522.0,238.3 L523.5,238.3 L525.0,238.3 L526.5,238.3 L528.0,238.2 L529.5,238.2 L531.0,238.2 L532.5,238.2 L534.0,238.2 L535.5,238.2 L537.0,238.2 L538.5,238.1 L540.0,238.1 L541.5,238.1 L543.0,238.1 L544.5,238.1 L546.0,238.1 L547.5,238.1 L549.0,238.1 L550.5,238.1 L552.0,238.0 L553.5,238.0 L555.0,238.0 L556.5,238.0 L558.0,238.0 L559.5,238.0 L561.0,238.0 L562.5,238.0 L564.0,238.0 L565.5,238.0 L567.0,237.9 L568.5,237.9 L570.0,237.9 L571.5,237.9 L573.0,237.9 L574.5,237.9 L576.0,237.9 L577.5,237.9 L579.0,237.9 L580.5,237.9 L582.0,237.9 L583.5,237.9 L585.0,237.9 L586.5,237.8 L588.0,237.8 L589.5,237.8 L591.0,237.8 L592.5,237.8 L594.0,237.8 L595.5,237.8 L597.0,237.8 L598.5,237.8 L600.0,237.8" stroke="#00ff97"/>
<path d="M65.0,430.6 L66.0,429.0 L67.5,426.7 L69.0,424.3 L70.5,422.0 L72.0,419.6 L73.5,417.3 L75.0,415.1 L76.5,412.8 L78.0,410.6 L79.5,408.3 L81.0,406.1 L82.5,403.9 L84.0,401.8 L85.5,399.6 L87.0,397.5 L88.5,395.4 L90.0,393.3 L91.5,391.2 L93.0,389.2 L94.5,387.2 L96.0,385.1 L97.5,383.1 L99.0,381.2 L100.5,379.2 L102.0,377.3 L103.5,375.3 L105.0,373.4 L106.5,371.5 L108.0,369.7 L109.5,367.8 L111.0,366.0 L112.5,364.2 L114.0,362.3 L115.5,360.6 L117.0,358.8 L118.5,357.0 L120.0,355.3 L121.5,353.6 L123.0,351.9 L124.5,350.2 L126.0,348.5 L127.5,346.9 L129.0,345.2 L130.5,343.6 L132.0,342.0 L133.5,340.4 L135.0,338.9 L136.5,337.3 L138.0,335.8 L139.5,334.3 L141.0,332.8 L142.5,331.3 L144.0,329.8 L145.5,328.4 L147.0,326.9 L148.5,325.5 L150.0,324.1 L151.5,322.8 L153.0,321.4 L154.5,320.1 L156.0,318.7 L157.5,317.4 L159.0,316.2 L160.5,314.9 L162.0,313.7 L163.5,312.4 L165.0,311.2 L166.5,310.1 L168.0,308.9 L169.5,307.7 L171.0,306.6 L172.5,305.5 L174.0,304.4 L175.5,303.3 L177.0,302.3 L178.5,301.2 L180.0,300.2 L181.5,299.2 L183.0,298.2 L184.5,297.2 L186.0,296.2 L187.5,295.3 L189.0,294.3 L190.5,293.4 L192.0,292.5 L193.5,291.6 L195.0,290.7 L196.5,289.8 L198.0,289.0 L199.5,288.1 L201.0,287.3 L202.5,286.4 L204.0,285.6 L205.5,284.8 L207.0,284.0 L208.5,283.3 L210.0,282.5 L211.5,281.7 L213.0,281.0 L214.5,280.3 L216.0,279.5 L217.5,278.8 L219.0,278.1 L220.5,277.4 L222.0,276.8 L223.5,276.1 L225.0,275.4 L226.5,274.8 L228.0,274.2 L229.5,273.5 L231.0,272.9 L232.5,272.3 L234.0,271.8 L235.5,271.2 L237.0,270.6 L238.5,270.1 L240.0,269.5 L241.5,269.0 L243.0,268.4 L244.5,267.9 L246.0,267.4 L247.5,266.9 L249.0,266.4 L250.5,265.9 L252.0,265.5 L253.5,265.0 L255.0,264.6 L256.5,264.1 L258.0,263.7 L259.5,263.2 L261.0,262.8 L262.5,262.4 L264.0,262.0 L265.5,261.6 L267.0,261.2 L268.5,260.8 L270.0,260.4 L271.5,260.1 L273.0,259.7 L274.5,259.3 L276.0,259.0 L277.5,258.6 L279.0,258.3 L280.5,258.0 L282.0,257.6 L283.5,257.3 L285.0,257.0 L286.5,256.7 L288.0,256.4 L289.5,256.1 L291.0,255.8 L292.5,255.5 L294.0,255.2 L295.5,255.0 L297.0,254.7 L298.5,254.4 L300.0,254.2 L301.5,253.9 L303.0,253.7 L304.5,253.5 L306.0,253.2 L307.5,253.0 L309.0,252.8 L310.5,252.5 L312.0,252.3 L313.5,252.1 L315.0,251.9 L316.5,251.7 L318.0,251.5 L319.5,251.3 L321.0,251.1 L322.5,250.9 L324.0,250.8 L325.5,250.6 L327.0,250.4 L328.5,250.2 L330.0,250.1 L331.5,249.9 L333.0,249.8 L334.5,249.6 L336.0,249.5 L337.5,249.3 L339.0,249.2 L340.5,249.0 L342.0,248.9 L343.5,248.7 L345.0,248.6 L346.5,248.5 L348.0,248.4 L349.5,248.2 L351.0,248.1 L352.5,248.0 L354.0,247.9 L355.5,247.8 L357.0,247.6 L358.5,247.5 L360.0,247.4 L361.5,247.3 L363.0,247.2 L364.5,247.1 L366.0,247.0 L367.5,246.9 L369.0,246.8 L370.5,246.7 L372.0,246.6 L373.5,246.5 L375.0,246.5 L376.5,246.4 L378.0,246.3 L379.5,246.2 L381.0,246.1 L382.5,246.0 L384.0,245.9 L385.5,245.8 L387.0,245.7 L388.5,245.7 L390.0,245.6 L391.5,245.5 L393.0,245.4 L394.5,245.3 L396.0,245.3 L397.5,245.2 L399.0,245.1 L400.5,245.0 L402.0,245.0 L403.5,244.9 L405.0,244.8 L406.5,244.7 L408.0,244.7 L409.5,244.6 L411.0,244.5 L412.5,244.5 L414.0,244.4 L415.5,244.4 L417.0,244.3 L418.5,244.2 L420.0,244.2 L421.5,244.1 L423.0,244.1 L424.5,244.0 L426.0,244.0 L427.5,243.9 L429.0,243.9 L430.5,243.8 L432.0,243.8 L433.5,243.7 L435.0,243.7 L436.5,243.6 L438.0,243.6 L439.5,243.5 L441.0,243.5 L442.5,243.4 L444.0,243.4 L445.5,243.4 L447.0,243.3 L448.5,243.3 L450.0,243.2 L451.5,243.2 L453.0,243.2 L454.5,243.1 L456.0,243.1 L457.5,243.0 L459.0,243.0 L460.5,243.0 L462.0,242.9 L463.5,242.9 L465.0,242.9 L466.5,242.8 L468.0,242.8 L469.5,242.8 L471.0,242.8 L472.5,242.7 L474.0,242.7 L475.5,242.7 L477.0,242.6 L478.5,242.6 L480.0,242.6 L481.5,242.6 L483.0,242.5 L484.5,242.5 L486.0,242.5 L487.5,242.5 L489.0,242.4 L490.5,242.4 L492.0,242.4 L493.5,242.4 L495.0,242.3 L496.5,242.3 L498.0,242.3 L499.5,242.3 L501.0,242.3 L502.5,242.2 L504.0,242.2 L505.5,242.2 L507.0,242.2 L508.5,242.2 L510.0,242.1 L511.5,242.1 L513.0,242.1 L514.5,242.1 L516.0,242.1 L517.5,242.1 L519.0,242.0 L520.5,242.0 L522.0,242.0 L523.5,242.0 L525.0,242.0 L526.5,242.0 L528.0,241.9 L529.5,241.9 L531.0,241.9 L532.5,241.9 L534.0,241.9 L535.5,241.9 L537.0,241.9 L538.5,241.8 L540.0,241.8 L541.5,241.8 L543.0,241.8 L544.5,241.8 L546.0,241.8 L547.5,241.8 L549.0,241.8 L550.5,241.8 L552.0,241.7 L553.5,241.7 L555.0,241.7 L556.5,241.7 L558.0,241.7 L559.5,241.7 L561.0,241.7 L562.5,241.7 L564.0,241.7 L565.5,241.7 L567.0,241.6 L568.5,241.6 L570.0,241.6 L571.5,241.6 L573.0,241.6 L574.5,241.6 L576.0,241.6 L577.5,241.6 L579.0,241.6 L580.5,241.6 L582.0,241.6 L583.5,241.6 L585.0,241.5 L586.5,241.5 L588.0,241.5 L589.5,241.5 L591.0,241.5 L592.5,241.5 L594.0,241.5 L595.5,241.5 L597.0,241.5 L598.5,241.5 L600.0,241.5" stroke="#00f9ff"/>
<path d="M65.0,432.0 L66.0,430.4 L67.5,428.1 L69.0,425.7 L70.5,423.4 L72.0,421.0 L73.5,418.7 L75.0,416.5 L76.5,414.2 L78.0,411.9 L79.5,409.7 L81.0,407.5 L82.5,405.3 L84.0,403.1 L85.5,401.0 L87.0,398.9 L88.5,396.7 L90.0,394.6 L91.5,392.6 L93.0,390.5 L94.5,388.5 L96.0,386.4 L97.5,384.4 L99.0,382.5 L100.5,380.5 L102.0,378.5 L103.5,376.6 L105.0,374.7 L106.5,372.8 L108.0,370.9 L109.5,369.1 L111.0,367.2 L112.5,365.4 L114.0,363.6 L115.5,361.8 L117.0,360.1 L118.5,358.3 L120.0,356.6 L121.5,354.9 L123.0,353.2 L124.5,351.5 L126.0,349.9 L127.5,348.2 L129.0,346.6 L130.5,345.0 L132.0,343.4 L133.5,341.8 L135.0,340.3 L136.5,338.8 L138.0,337.3 L139.5,335.8 L141.0,334.3 L142.5,332.8 L144.0,331.4 L145.5,330.0 L147.0,328.6 L148.5,327.2 L150.0,325.8 L151.5,324.5 L153.0,323.1 L154.5,321.8 L156.0,320.5 L157.5,319.2 L159.0,318.0 L160.5,316.7 L162.0,315.5 L163.5,314.3 L165.0,313.1 L166.5,311.9 L168.0,310.8 L169.5,309.6 L171.0,308.5 L172.5,307.4 L174.0,306.3 L175.5,305.2 L177.0,304.1 L178.5,303.1 L180.0,302.0 L181.5,301.0 L183.0,300.0 L184.5,299.0 L186.0,298.0 L187.5,297.1 L189.0,296.1 L190.5,295.2 L192.0,294.3 L193.5,293.4 L195.0,292.5 L196.5,291.6 L198.0,290.8 L199.5,289.9 L201.0,289.1 L202.5,288.2 L204.0,287.4 L205.5,286.6 L207.0,285.9 L208.5,285.1 L210.0,284.3 L211.5,283.6 L213.0,282.8 L214.5,282.1 L216.0,281.4 L217.5,280.7 L219.0,280.0 L220.5,279.3 L222.0,278.7 L223.5,278.0 L225.0,277.4 L226.5,276.7 L228.0,276.1 L229.5,275.5 L231.0,274.9 L232.5,274.3 L234.0,273.7 L235.5,273.2 L237.0,272.6 L238.5,272.1 L240.0,271.5 L241.5,271.0 L243.0,270.5 L244.5,269.9 L246.0,269.4 L247.5,268.9 L249.0,268.4 L250.5,268.0 L252.0,267.5 L253.5,267.0 L255.0,266.6 L256.5,266.1 L258.0,265.7 L259.5,265.3 L261.0,264.8 L262.5,264.4 L264.0,264.0 L265.5,263.6 L267.0,263.2 L268.5,262.8 L270.0,262.4 L271.5,262.1 L273.0,261.7 L274.5,261.4 L276.0,261.0 L277.5,260.7 L279.0,260.3 L280.5,260.0 L282.0,259.7 L283.5,259.3 L285.0,259.0 L286.5,258.7 L288.0,258.4 L289.5,258.1 L291.0,257.9 L292.5,257.6 L294.0,257.3 L295.5,257.0 L297.0,256.8 L298.5,256.5 L300.0,256.3 L301.5,256.0 L303.0,255.8 L304.5,255.5 L306.0,255.3 L307.5,255.1 L309.0,254.9 L310.5,254.6 L312.0,254.4 L313.5,254.2 L315.0,254.0 L316.5,253.8 L318.0,253.6 L319.5,253.4 L321.0,253.3 L322.5,253.1 L324.0,252.9 L325.5,252.7 L327.0,252.6 L328.5,252.4 L330.0,252.2 L331.5,252.1 L333.0,251.9 L334.5,251.8 L336.0,251.6 L337.5,251.5 L339.0,251.3 L340.5,251.2 L342.0,251.1 L343.5,250.9 L345.0,250.8 L346.5,250.7 L348.0,250.6 L349.5,250.4 L351.0,250.3 L352.5,250.2 L354.0,250.1 L355.5,250.0 L357.0,249.9 L358.5,249.8 L360.0,249.7 L361.5,249.6 L363.0,249.5 L364.5,249.4 L366.0,249.3 L367.5,249.2 L369.0,249.1 L370.5,249.0 L372.0,248.9 L373.5,248.8 L375.0,248.7 L376.5,248.6 L378.0,248.5 L379.5,248.5 L381.0,248.4 L382.5,248.3 L384.0,248.2 L385.5,248.1 L387.0,248.0 L388.5,247.9 L390.0,247.9 L391.5,247.8 L393.0,247.7 L394.5,247.6 L396.0,247.5 L397.5,247.4 L399.0,247.4 L400.5,247.3 L402.0,247.2 L403.5,247.1 L405.0,247.1 L406.5,247.0 L408.0,246.9 L409.5,246.9 L411.0,246.8 L412.5,246.7 L414.0,246.7 L415.5,246.6 L417.0,246.6 L418.5,246.5 L420.0,246.4 L421.5,246.4 L423.0,246.3 L424.5,246.3 L426.0,246.2 L427.5,246.2 L429.0,246.1 L430.5,246.1 L432.0,246.0 L433.5,246.0 L435.0,245.9 L436.5,245.9 L438.0,245.8 L439.5,245.8 L441.0,245.7 L442.5,245.7 L444.0,245.7 L445.5,245.6 L447.0,245.6 L448.5,245.5 L450.0,245.5 L451.5,245.5 L453.0,245.4 L454.5,245.4 L456.0,245.3 L457.5,245.3 L459.0,245.3 L460.5,245.2 L462.0,245.2 L463.5,245.2 L465.0,245.1 L466.5,245.1 L468.0,245.1 L469.5,245.0 L471.0,245.0 L472.5,245.0 L474.0,245.0 L475.5,244.9 L477.0,244.9 L478.5,244.9 L480.0,244.8 L481.5,244.8 L483.0,244.8 L484.5,244.8 L486.0,244.7 L487.5,244.7 L489.0,244.7 L490.5,244.7 L492.0,244.6 L493.5,244.6 L495.0,244.6 L496.5,244.6 L498.0,244.6 L499.5,244.5 L501.0,244.5 L502.5,244.5 L504.0,244.5 L505.5,244.5 L507.0,244.4 L508.5,244.4 L510.0,244.4 L511.5,244.4 L513.0,244.4 L514.5,244.3 L516.0,244.3 L517.5,244.3 L519.0,244.3 L520.5,244.3 L522.0,244.3 L523.5,244.2 L525.0,244.2 L526.5,244.2 L528.0,244.2 L529.5,244.2 L531.0,244.2 L532.5,244.2 L534.0,244.1 L535.5,244.1 L537.0,244.1 L538.5,244.1 L540.0,244.1 L541.5,244.1 L543.0,244.1 L544.5,244.1 L546.0,244.0 L547.5,244.0 L549.0,244.0 L550.5,244.0 L552.0,244.0 L553.5,244.0 L555.0,244.0 L556.5,244.0 L558.0,244.0 L559.5,243.9 L561.0,243.9 L562.5,243.9 L564.0,243.9 L565.5,243.9 L567.0,243.9 L568.5,243.9 L570.0,243.9 L571.5,243.9 L573.0,243.9 L574.5,243.9 L576.0,243.8 L577.5,243.8 L579.0,243.8 L580.5,243.8 L582.0,243.8 L583.5,243.8 L585.0,243.8 L586.5,243.8 L588.0,243.8 L589.5,243.8 L591.0,243.8 L592.5,243.8 L594.0,243.8 L595.5,243.8 L597.0,243.7 L598.5,243.7 L600.0,243.7" stroke="#008bff"/>
</g>
<g stroke="#000" fill="none">
<line x1="66.7" y1="97" x2="66.7" y2="438.4" stroke-width="2.5"/>
<line x1="55.2" y1="431.6" x2="609" y2="431.6" stroke-width="2.3"/>
<line x1="66.7" y1="421.4" x2="73.2" y2="421.4" stroke-width="1.8"/>
<line x1="66.7" y1="411.0" x2="70.4" y2="411.0" stroke-width="1.8"/>
<line x1="66.7" y1="400.6" x2="70.4" y2="400.6" stroke-width="1.8"/>
<line x1="66.7" y1="390.2" x2="70.4" y2="390.2" stroke-width="1.8"/>
<line x1="66.7" y1="379.8" x2="70.4" y2="379.8" stroke-width="1.8"/>
<line x1="66.7" y1="369.4" x2="73.2" y2="369.4" stroke-width="1.8"/>
<line x1="66.7" y1="359.0" x2="70.4" y2="359.0" stroke-width="1.8"/>
<line x1="66.7" y1="348.6" x2="70.4" y2="348.6" stroke-width="1.8"/>
<line x1="66.7" y1="338.2" x2="70.4" y2="338.2" stroke-width="1.8"/>
<line x1="66.7" y1="327.9" x2="70.4" y2="327.9" stroke-width="1.8"/>
<line x1="66.7" y1="317.5" x2="73.2" y2="317.5" stroke-width="1.8"/>
<line x1="66.7" y1="307.1" x2="70.4" y2="307.1" stroke-width="1.8"/>
<line x1="66.7" y1="296.7" x2="70.4" y2="296.7" stroke-width="1.8"/>
<line x1="66.7" y1="286.3" x2="70.4" y2="286.3" stroke-width="1.8"/>
<line x1="66.7" y1="275.9" x2="70.4" y2="275.9" stroke-width="1.8"/>
<line x1="66.7" y1="265.5" x2="73.2" y2="265.5" stroke-width="1.8"/>
<line x1="66.7" y1="255.1" x2="70.4" y2="255.1" stroke-width="1.8"/>
<line x1="66.7" y1="244.7" x2="70.4" y2="244.7" stroke-width="1.8"/>
<line x1="66.7" y1="234.3" x2="70.4" y2="234.3" stroke-width="1.8"/>
<line x1="66.7" y1="223.9" x2="70.4" y2="223.9" stroke-width="1.8"/>
<line x1="66.7" y1="213.5" x2="73.2" y2="213.5" stroke-width="1.8"/>
<line x1="66.7" y1="203.1" x2="70.4" y2="203.1" stroke-width="1.8"/>
<line x1="66.7" y1="192.7" x2="70.4" y2="192.7" stroke-width="1.8"/>
<line x1="66.7" y1="182.4" x2="70.4" y2="182.4" stroke-width="1.8"/>
<line x1="66.7" y1="172.0" x2="70.4" y2="172.0" stroke-width="1.8"/>
<line x1="66.7" y1="161.6" x2="73.2" y2="161.6" stroke-width="1.8"/>
<line x1="66.7" y1="151.2" x2="70.4" y2="151.2" stroke-width="1.8"/>
<line x1="66.7" y1="140.8" x2="70.4" y2="140.8" stroke-width="1.8"/>
<line x1="66.7" y1="130.4" x2="70.4" y2="130.4" stroke-width="1.8"/>
<line x1="66.7" y1="120.0" x2="70.4" y2="120.0" stroke-width="1.8"/>
<line x1="66.7" y1="109.6" x2="73.2" y2="109.6" stroke-width="1.8"/>
<line x1="66.7" y1="99.2" x2="70.4" y2="99.2" stroke-width="1.8"/>
<line x1="150.2" y1="431.6" x2="150.2" y2="425.2" stroke-width="2.0"/>
<line x1="272.6" y1="431.6" x2="272.6" y2="425.2" stroke-width="2.0"/>
<line x1="325.4" y1="431.6" x2="325.4" y2="425.2" stroke-width="2.0"/>
<line x1="447.8" y1="431.6" x2="447.8" y2="425.2" stroke-width="2.0"/>
<line x1="500.5" y1="431.6" x2="500.5" y2="425.2" stroke-width="2.0"/>
<line x1="202.9" y1="431.6" x2="202.9" y2="429.3" stroke-width="1.0"/>
<line x1="233.8" y1="431.6" x2="233.8" y2="429.3" stroke-width="1.0"/>
<line x1="255.7" y1="431.6" x2="255.7" y2="429.3" stroke-width="1.0"/>
<line x1="286.5" y1="431.6" x2="286.5" y2="429.3" stroke-width="1.0"/>
<line x1="298.2" y1="431.6" x2="298.2" y2="429.3" stroke-width="1.0"/>
<line x1="308.4" y1="431.6" x2="308.4" y2="429.3" stroke-width="1.0"/>
<line x1="317.3" y1="431.6" x2="317.3" y2="429.3" stroke-width="1.0"/>
<line x1="378.1" y1="431.6" x2="378.1" y2="429.3" stroke-width="1.0"/>
<line x1="408.9" y1="431.6" x2="408.9" y2="429.3" stroke-width="1.0"/>
<line x1="430.8" y1="431.6" x2="430.8" y2="429.3" stroke-width="1.0"/>
<line x1="461.6" y1="431.6" x2="461.6" y2="429.3" stroke-width="1.0"/>
<line x1="473.4" y1="431.6" x2="473.4" y2="429.3" stroke-width="1.0"/>
<line x1="483.5" y1="431.6" x2="483.5" y2="429.3" stroke-width="1.0"/>
<line x1="492.5" y1="431.6" x2="492.5" y2="429.3" stroke-width="1.0"/>
<line x1="553.2" y1="431.6" x2="553.2" y2="429.3" stroke-width="1.0"/>
<line x1="584.1" y1="431.6" x2="584.1" y2="429.3" stroke-width="1.0"/>
<line x1="606.0" y1="431.6" x2="606.0" y2="429.3" stroke-width="1.0"/>
</g>
<text class="t" x="60" y="116.2" text-anchor="end">9.0</text>
<text class="t" x="60" y="168.2" text-anchor="end">8.5</text>
<text class="t" x="60" y="220.1" text-anchor="end">8.0</text>
<text class="t" x="60" y="272.1" text-anchor="end">7.5</text>
<text class="t" x="60" y="324.1" text-anchor="end">7.0</text>
<text class="t" x="60" y="376.0" text-anchor="end">6.5</text>
<text class="t" x="150.2" y="458.2" text-anchor="middle">100</text>
<text class="t" x="272.6" y="458.2" text-anchor="middle">500</text>
<text class="t" x="325.4" y="458.2" text-anchor="middle">1000</text>
<text class="t" x="447.8" y="458.2" text-anchor="middle">5000</text>
<text class="t" x="491.9" y="458.1">10<tspan font-size="13" dy="-7.2" dx="0.1">4</tspan></text>
<line x1="49.6" y1="48.6" x2="101.7" y2="48.6" stroke="#000" stroke-width="1.3"/>
<rect x="661.2" y="21.8" width="102.4" height="392.8" fill="#fff" stroke="#000" stroke-width="2.2"/>
<line x1="675.9" y1="90.35" x2="711.1" y2="90.35" stroke="#ff0000" stroke-width="4.4"/>
<text class="lg" x="716.1" y="96.7">3.</text>
<line x1="675.9" y1="127.23" x2="711.1" y2="127.23" stroke="#ff6e00" stroke-width="4.4"/>
<text class="lg" x="716.1" y="133.6">4.95</text>
<line x1="675.9" y1="164.11" x2="711.1" y2="164.11" stroke="#ffdc00" stroke-width="4.4"/>
<text class="lg" x="716.1" y="170.5">8.15</text>
<line x1="675.9" y1="200.99" x2="711.1" y2="200.99" stroke="#b4ff00" stroke-width="4.4"/>
<text class="lg" x="716.1" y="207.3">13.4</text>
<line x1="675.9" y1="237.87" x2="711.1" y2="237.87" stroke="#45ff00" stroke-width="4.4"/>
<text class="lg" x="716.1" y="244.2">22.2</text>
<line x1="675.9" y1="274.75" x2="711.1" y2="274.75" stroke="#00ff29" stroke-width="4.4"/>
<text class="lg" x="716.1" y="281.1">36.5</text>
<line x1="675.9" y1="311.63" x2="711.1" y2="311.63" stroke="#00ff97" stroke-width="4.4"/>
<text class="lg" x="716.1" y="318.0">60.3</text>
<line x1="675.9" y1="348.51" x2="711.1" y2="348.51" stroke="#00f9ff" stroke-width="4.4"/>
<text class="lg" x="716.1" y="354.9">99.3</text>
<line x1="675.9" y1="385.39" x2="711.1" y2="385.39" stroke="#008bff" stroke-width="4.4"/>
<text class="lg" x="716.1" y="391.7">164.</text>
<path d="M33.97,42.90 C33.48,45.10 31.54,53.90 31.05,56.10" fill="none" stroke="#000" stroke-width="2.1" stroke-linecap="round" stroke-linejoin="round" stroke-linecap="butt"/>
<path d="M33.60,48.60 C33.93,48.27 34.80,47.25 35.60,46.60 C36.40,45.95 37.45,45.17 38.40,44.70 C39.35,44.23 40.82,43.95 41.30,43.80" fill="none" stroke="#000" stroke-width="1.15" stroke-linecap="round" stroke-linejoin="round" />
<circle cx="42.75" cy="44.55" r="1.3" fill="#000"/>
<path d="M33.90,48.40 C34.28,48.38 35.45,48.20 36.20,48.30 C36.95,48.40 37.83,48.55 38.40,49.00 C38.97,49.45 39.43,50.23 39.60,51.00 C39.77,51.77 39.33,52.85 39.40,53.60 C39.47,54.35 39.67,55.05 40.00,55.50 C40.33,55.95 40.92,56.32 41.40,56.30 C41.88,56.28 42.47,55.85 42.90,55.40 C43.33,54.95 43.72,54.20 44.00,53.60 C44.28,53.00 44.50,52.10 44.60,51.80" fill="none" stroke="#000" stroke-width="1.2" stroke-linecap="round" stroke-linejoin="round" />
<path d="M36.20,48.30 C36.57,48.42 37.83,48.55 38.40,49.00 C38.97,49.45 39.43,50.23 39.60,51.00 C39.77,51.77 39.33,52.85 39.40,53.60 C39.47,54.35 39.90,55.18 40.00,55.50" fill="none" stroke="#000" stroke-width="1.9" stroke-linecap="round" stroke-linejoin="round" />
<path d="M626.97,425.90 C626.48,428.10 624.54,436.90 624.05,439.10" fill="none" stroke="#000" stroke-width="2.1" stroke-linecap="round" stroke-linejoin="round" stroke-linecap="butt"/>
<path d="M626.60,431.60 C626.93,431.27 627.80,430.25 628.60,429.60 C629.40,428.95 630.45,428.17 631.40,427.70 C632.35,427.23 633.82,426.95 634.30,426.80" fill="none" stroke="#000" stroke-width="1.15" stroke-linecap="round" stroke-linejoin="round" />
<circle cx="635.75" cy="427.55" r="1.3" fill="#000"/>
<path d="M626.90,431.40 C627.28,431.38 628.45,431.20 629.20,431.30 C629.95,431.40 630.83,431.55 631.40,432.00 C631.97,432.45 632.43,433.23 632.60,434.00 C632.77,434.77 632.33,435.85 632.40,436.60 C632.47,437.35 632.67,438.05 633.00,438.50 C633.33,438.95 633.92,439.32 634.40,439.30 C634.88,439.28 635.47,438.85 635.90,438.40 C636.33,437.95 636.72,437.20 637.00,436.60 C637.28,436.00 637.50,435.10 637.60,434.80" fill="none" stroke="#000" stroke-width="1.2" stroke-linecap="round" stroke-linejoin="round" />
<path d="M629.20,431.30 C629.57,431.42 630.83,431.55 631.40,432.00 C631.97,432.45 632.43,433.23 632.60,434.00 C632.77,434.77 632.33,435.85 632.40,436.60 C632.47,437.35 632.90,438.18 633.00,438.50" fill="none" stroke="#000" stroke-width="1.9" stroke-linecap="round" stroke-linejoin="round" />
<line x1="53.87" y1="12.90" x2="53.87" y2="42.80" stroke="#000" stroke-width="1.4"/>
<line x1="97.32" y1="12.90" x2="97.32" y2="42.80" stroke="#000" stroke-width="1.4"/>
<path d="M71.60,16.20 C71.43,16.00 71.05,15.28 70.60,15.00 C70.15,14.72 69.52,14.60 68.90,14.55 C68.28,14.50 67.43,14.52 66.90,14.70 C66.37,14.88 65.95,15.22 65.70,15.60 C65.45,15.98 65.33,16.37 65.40,17.00 C65.47,17.63 65.75,18.53 66.10,19.40 C66.45,20.27 67.08,21.22 67.50,22.20 C67.92,23.18 68.35,24.23 68.60,25.30 C68.85,26.37 69.05,27.45 69.00,28.60 C68.95,29.75 68.72,31.22 68.30,32.20 C67.88,33.18 67.15,34.00 66.50,34.50 C65.85,35.00 65.10,35.18 64.40,35.20 C63.70,35.22 62.88,35.05 62.30,34.60 C61.72,34.15 61.21,33.28 60.90,32.50 C60.59,31.72 60.40,30.83 60.45,29.90 C60.50,28.97 60.79,27.82 61.20,26.90 C61.61,25.98 62.27,25.07 62.90,24.40 C63.53,23.73 64.33,23.17 65.00,22.90 C65.67,22.63 66.40,22.63 66.90,22.80 C67.40,22.97 67.82,23.72 68.00,23.90" fill="none" stroke="#000" stroke-width="1.0" stroke-linecap="round" stroke-linejoin="round" />
<path d="M71.60,16.20 C71.43,16.00 71.05,15.28 70.60,15.00 C70.15,14.72 69.52,14.60 68.90,14.55 C68.28,14.50 67.43,14.52 66.90,14.70 C66.37,14.88 65.95,15.22 65.70,15.60 C65.45,15.98 65.33,16.37 65.40,17.00 C65.47,17.63 65.75,18.53 66.10,19.40 C66.45,20.27 67.08,21.22 67.50,22.20 C67.92,23.18 68.42,24.78 68.60,25.30" fill="none" stroke="#000" stroke-width="1.9" stroke-linecap="round" stroke-linejoin="round" />
<path d="M62.30,34.60 C62.07,34.25 61.21,33.28 60.90,32.50 C60.59,31.72 60.40,30.83 60.45,29.90 C60.50,28.97 60.79,27.82 61.20,26.90 C61.61,25.98 62.62,24.82 62.90,24.40" fill="none" stroke="#000" stroke-width="1.9" stroke-linecap="round" stroke-linejoin="round" />
<path d="M76.90,22.50 C76.68,22.82 75.97,23.62 75.60,24.40 C75.23,25.18 74.89,26.22 74.70,27.20 C74.51,28.18 74.40,29.30 74.45,30.30 C74.50,31.30 74.66,32.46 75.00,33.20 C75.34,33.94 75.95,34.55 76.50,34.75 C77.05,34.95 77.68,34.77 78.30,34.40 C78.92,34.02 79.63,33.30 80.20,32.50 C80.77,31.70 81.28,30.57 81.70,29.60 C82.12,28.63 82.53,27.18 82.70,26.70" fill="none" stroke="#000" stroke-width="1.0" stroke-linecap="round" stroke-linejoin="round" />
<path d="M82.70,26.70 C82.60,27.22 82.18,28.82 82.10,29.80 C82.02,30.78 82.02,31.82 82.20,32.60 C82.38,33.38 82.73,34.13 83.20,34.50 C83.67,34.87 84.33,34.97 85.00,34.80 C85.67,34.63 86.52,34.17 87.20,33.50 C87.88,32.83 88.55,31.80 89.10,30.80 C89.65,29.80 90.18,28.48 90.50,27.50 C90.82,26.52 90.97,25.62 91.00,24.90 C91.03,24.18 90.75,23.48 90.70,23.20" fill="none" stroke="#000" stroke-width="1.0" stroke-linecap="round" stroke-linejoin="round" />
<path d="M74.70,27.20 C74.66,27.72 74.40,29.30 74.45,30.30 C74.50,31.30 74.66,32.46 75.00,33.20 C75.34,33.94 75.95,34.55 76.50,34.75 C77.05,34.95 77.68,34.77 78.30,34.40 C78.92,34.02 79.88,32.82 80.20,32.50" fill="none" stroke="#000" stroke-width="1.9" stroke-linecap="round" stroke-linejoin="round" />
<path d="M82.10,29.80 C82.12,30.27 82.02,31.82 82.20,32.60 C82.38,33.38 82.73,34.13 83.20,34.50 C83.67,34.87 84.33,34.97 85.00,34.80 C85.67,34.63 86.52,34.17 87.20,33.50 C87.88,32.83 88.78,31.25 89.10,30.80" fill="none" stroke="#000" stroke-width="1.9" stroke-linecap="round" stroke-linejoin="round" />
<circle cx="90.05" cy="23.60" r="1.3" fill="#000"/>
<line x1="61.09" y1="54.30" x2="61.09" y2="84.60" stroke="#000" stroke-width="1.4"/>
<line x1="89.83" y1="54.30" x2="89.83" y2="84.60" stroke="#000" stroke-width="1.4"/>
<path d="M69.10,64.50 C68.88,64.82 68.17,65.62 67.80,66.40 C67.43,67.18 67.09,68.22 66.90,69.20 C66.71,70.18 66.60,71.30 66.65,72.30 C66.70,73.30 66.86,74.46 67.20,75.20 C67.54,75.94 68.15,76.55 68.70,76.75 C69.25,76.95 69.88,76.78 70.50,76.40 C71.12,76.03 71.83,75.30 72.40,74.50 C72.97,73.70 73.48,72.57 73.90,71.60 C74.32,70.63 74.73,69.18 74.90,68.70" fill="none" stroke="#000" stroke-width="1.0" stroke-linecap="round" stroke-linejoin="round" />
<path d="M74.90,68.70 C74.80,69.22 74.38,70.82 74.30,71.80 C74.22,72.78 74.22,73.82 74.40,74.60 C74.58,75.38 74.93,76.13 75.40,76.50 C75.87,76.87 76.53,76.97 77.20,76.80 C77.87,76.63 78.72,76.17 79.40,75.50 C80.08,74.83 80.75,73.80 81.30,72.80 C81.85,71.80 82.38,70.48 82.70,69.50 C83.02,68.52 83.17,67.62 83.20,66.90 C83.23,66.18 82.95,65.48 82.90,65.20" fill="none" stroke="#000" stroke-width="1.0" stroke-linecap="round" stroke-linejoin="round" />
<path d="M66.90,69.20 C66.86,69.72 66.60,71.30 66.65,72.30 C66.70,73.30 66.86,74.46 67.20,75.20 C67.54,75.94 68.15,76.55 68.70,76.75 C69.25,76.95 69.88,76.78 70.50,76.40 C71.12,76.03 72.08,74.82 72.40,74.50" fill="none" stroke="#000" stroke-width="1.9" stroke-linecap="round" stroke-linejoin="round" />
<path d="M74.30,71.80 C74.32,72.27 74.22,73.82 74.40,74.60 C74.58,75.38 74.93,76.13 75.40,76.50 C75.87,76.87 76.53,76.97 77.20,76.80 C77.87,76.63 78.72,76.17 79.40,75.50 C80.08,74.83 80.98,73.25 81.30,72.80" fill="none" stroke="#000" stroke-width="1.9" stroke-linecap="round" stroke-linejoin="round" />
<circle cx="82.25" cy="65.60" r="1.3" fill="#000"/>
<path d="M708.40,41.80 C708.55,41.38 708.92,40.02 709.30,39.30 C709.68,38.58 710.22,37.85 710.70,37.50 C711.18,37.15 711.80,37.02 712.20,37.20 C712.60,37.38 712.98,37.87 713.10,38.60 C713.22,39.33 713.10,40.37 712.90,41.60 C712.70,42.83 712.27,44.40 711.90,46.00 C711.53,47.60 710.90,50.33 710.70,51.20" fill="none" stroke="#000" stroke-width="1.0" stroke-linecap="round" stroke-linejoin="round" />
<path d="M713.20,41.40 C713.43,41.07 714.03,40.00 714.60,39.40 C715.17,38.80 715.83,38.22 716.60,37.80 C717.37,37.38 718.35,36.95 719.20,36.90 C720.05,36.85 721.05,37.05 721.70,37.50 C722.35,37.95 722.85,38.75 723.10,39.60 C723.35,40.45 723.40,41.22 723.20,42.60 C723.00,43.98 722.43,46.07 721.90,47.90 C721.37,49.73 720.59,51.88 720.00,53.60 C719.41,55.32 718.62,57.43 718.35,58.20" fill="none" stroke="#000" stroke-width="1.0" stroke-linecap="round" stroke-linejoin="round" />
<path d="M712.20,37.20 C712.35,37.43 712.98,37.87 713.10,38.60 C713.22,39.33 713.10,40.37 712.90,41.60 C712.70,42.83 712.27,44.40 711.90,46.00 C711.53,47.60 710.90,50.33 710.70,51.20" fill="none" stroke="#000" stroke-width="2.0" stroke-linecap="round" stroke-linejoin="round" stroke-linecap="butt"/>
<path d="M719.20,36.90 C719.62,37.00 721.05,37.05 721.70,37.50 C722.35,37.95 722.85,38.75 723.10,39.60 C723.35,40.45 723.40,41.22 723.20,42.60 C723.00,43.98 722.43,46.07 721.90,47.90 C721.37,49.73 720.59,51.88 720.00,53.60 C719.41,55.32 718.62,57.43 718.35,58.20" fill="none" stroke="#000" stroke-width="2.0" stroke-linecap="round" stroke-linejoin="round" stroke-linecap="butt"/>
</svg></body></html>
